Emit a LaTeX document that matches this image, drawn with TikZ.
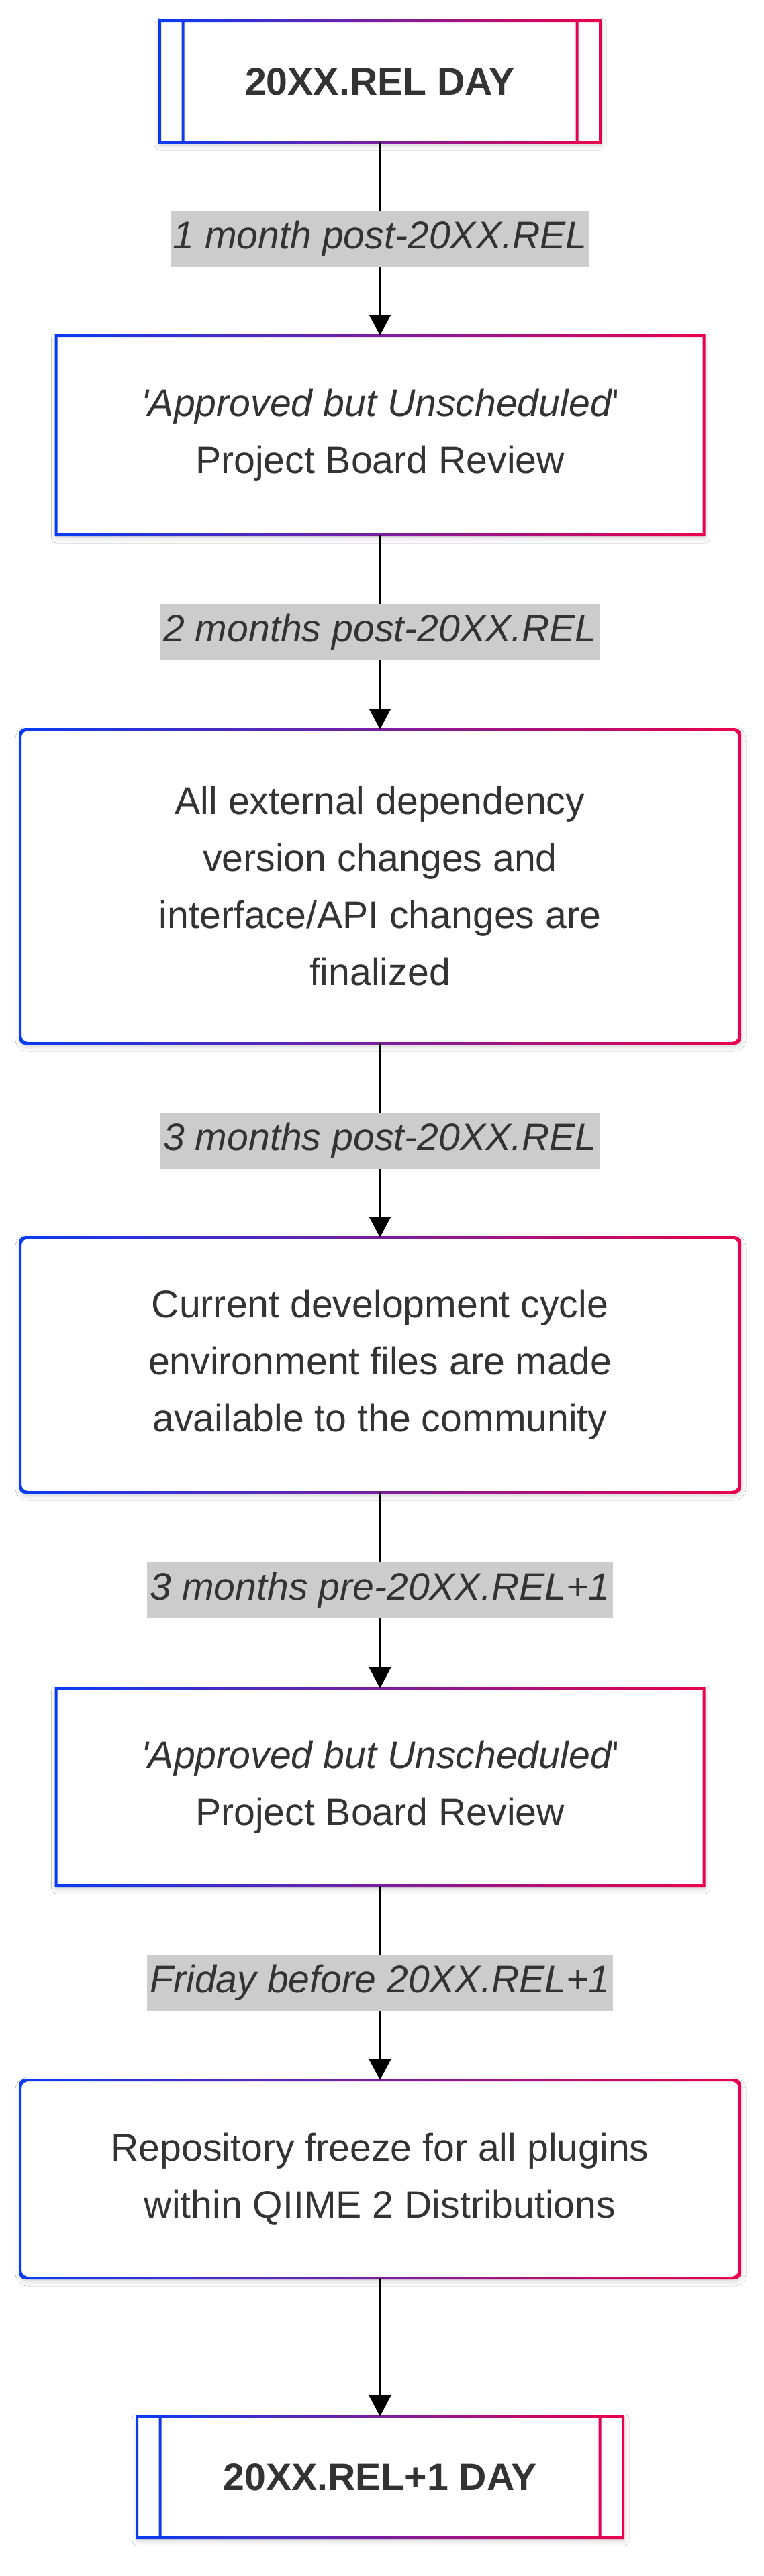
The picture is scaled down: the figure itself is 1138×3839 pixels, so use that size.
\documentclass[tikz,border=0pt]{standalone}
\usepackage{fontspec}
\newfontfamily\mfont{Liberation Sans}
\usetikzlibrary{arrows.meta,shadows.blur}
\definecolor{cblue}{RGB}{8,60,242}
\definecolor{cred}{RGB}{235,0,75}
\definecolor{ctext}{HTML}{333333}
\definecolor{clab}{HTML}{CCCCCC}
\newcommand\ringbox[2]{%
  \shade[left color=cblue, right color=cred, even odd rule, #2]
    ([xshift=-1pt,yshift=1pt]#1.north west) rectangle ([xshift=1pt,yshift=-1pt]#1.south east)
    ([xshift=1pt,yshift=-1pt]#1.north west) rectangle ([xshift=-1pt,yshift=1pt]#1.south east);
}
\newcommand\subring[1]{%
  \shade[left color=cblue, right color=cred, even odd rule]
    ([xshift=-1pt,yshift=1pt]#1.north west) rectangle ([xshift=1pt,yshift=-1pt]#1.south east)
    ([xshift=1pt,yshift=-1pt]#1.north west) rectangle ([xshift=-1pt,yshift=1pt]#1.south east)
    ([xshift=16.25pt,yshift=-1pt]#1.north west) rectangle ([xshift=18.25pt,yshift=1pt]#1.south west)
    ([xshift=-18.25pt,yshift=-1pt]#1.north east) rectangle ([xshift=-16.25pt,yshift=1pt]#1.south east);
}
\tikzset{
  boxbase/.style={fill=white, text=ctext, align=center, inner sep=0pt, outer sep=0pt,
    font=\mfont\fontsize{28.6}{42.5}\selectfont,
    blur shadow={shadow xshift=0.5pt, shadow yshift=-2pt, shadow blur radius=4pt, shadow opacity=22}},
  subbox/.style={boxbase, rectangle, minimum height=90.5pt},
  sqbox/.style={boxbase, rectangle, minimum width=482.5pt},
  rdbox/.style={boxbase, rectangle, rounded corners=5pt, minimum width=536pt},
  lab/.style={fill=clab, text=ctext, inner xsep=2pt, inner ysep=0pt, minimum height=42pt,
    font=\mfont\itshape\fontsize{28.6}{42}\selectfont},
  edge/.style={draw=black, line width=1.7pt, -{Triangle[width=16pt,length=15.5pt]}}
}
\begin{document}
\begin{tikzpicture}[x=0.5pt,y=-0.5pt]
\useasboundingbox[fill=white] (0,0) rectangle (1138,3839);
\node[subbox, minimum width=328pt] (top) at (566,121.5) {\bfseries 20XX.REL DAY};
\node[sqbox, minimum height=148.5pt] (ap1) at (566,648.5) {{\itshape 'Approved but Unscheduled}'\\Project Board Review};
\node[rdbox, minimum height=234pt] (ext) at (566,1321) {All external dependency\\version changes and\\interface/API changes are\\finalized};
\node[rdbox, minimum height=190pt] (cur) at (566,2034) {Current development cycle\\environment files are made\\available to the community};
\node[sqbox, minimum height=147pt] (ap2) at (566,2663) {{\itshape 'Approved but Unscheduled}'\\Project Board Review};
\node[rdbox, minimum height=147.5pt] (rep) at (566,3247.5) {Repository freeze for all plugins\\within QIIME 2 Distributions};
\node[subbox, minimum width=362pt] (bot) at (566,3691.5) {\bfseries 20XX.REL+1 DAY};
\subring{top}
\ringbox{ap1}{sharp corners}
\ringbox{ext}{rounded corners=5pt}
\ringbox{cur}{rounded corners=5pt}
\ringbox{ap2}{sharp corners}
\ringbox{rep}{rounded corners=5pt}
\subring{bot}
\draw[edge] (top) -- node[lab] {1 month post-20XX.REL} (ap1);
\draw[edge] (ap1) -- node[lab] {2 months post-20XX.REL} (ext);
\draw[edge] (ext) -- node[lab] {3 months post-20XX.REL} (cur);
\draw[edge] (cur) -- node[lab] {3 months pre-20XX.REL+1} (ap2);
\draw[edge] (ap2) -- node[lab] {Friday before 20XX.REL+1} (rep);
\draw[edge] (rep) -- (bot);
\end{tikzpicture}
\end{document}
